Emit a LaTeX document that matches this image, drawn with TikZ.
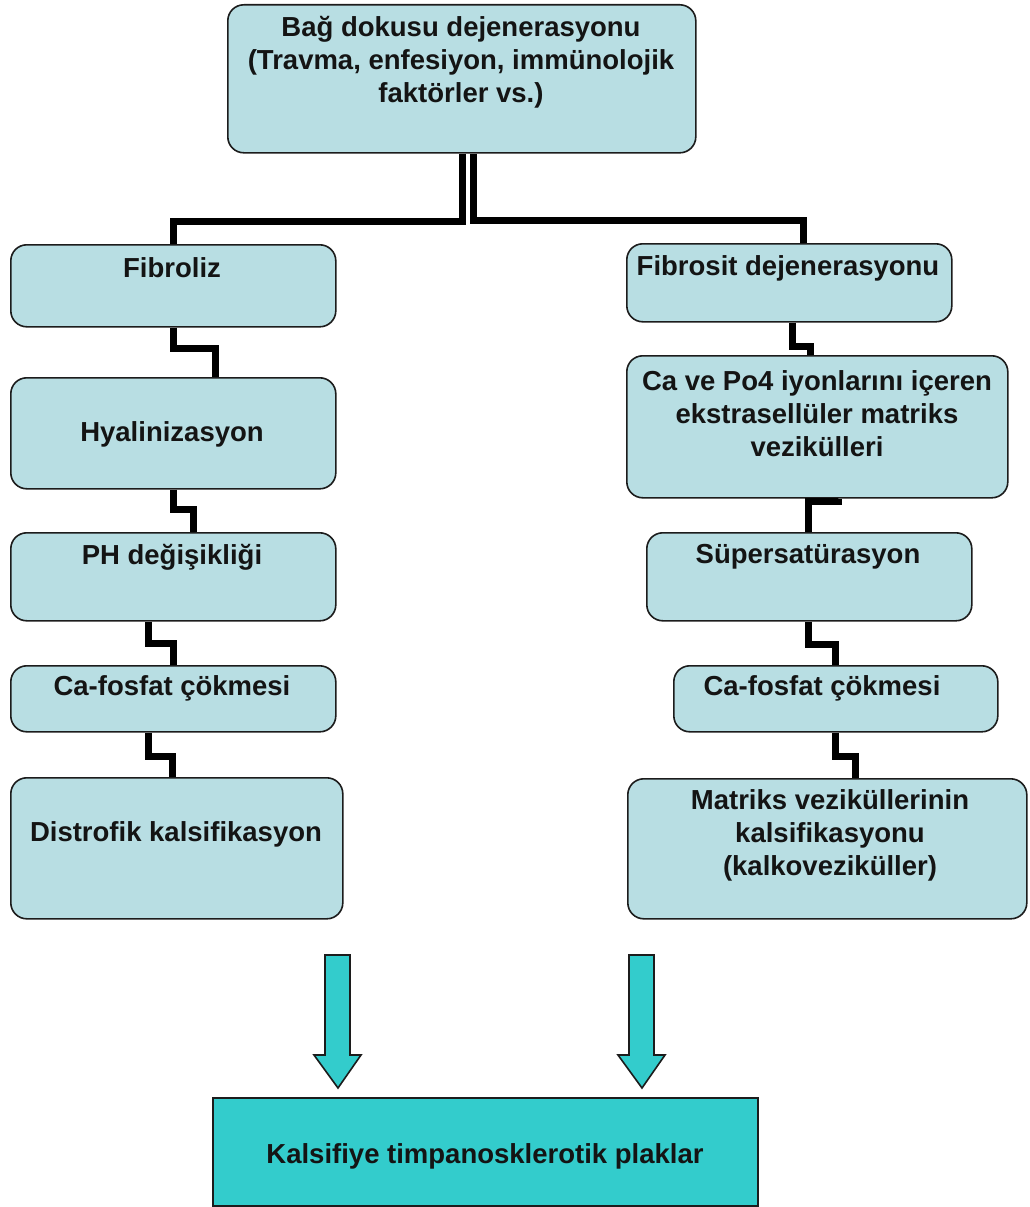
\documentclass[tikz,border=0pt]{standalone}
\usepackage{fontspec}
\setmainfont{Liberation Sans}
\definecolor{boxfill}{HTML}{B8DEE3}
\definecolor{tealfill}{HTML}{33CCCC}
\definecolor{edge}{HTML}{1C1C1C}
\definecolor{txt}{HTML}{141414}
\begin{document}
\begin{tikzpicture}[x=1pt,y=-1pt,
  rbox/.style={draw=edge,line width=1.6pt,fill=boxfill,rounded corners=16pt,inner sep=0pt,anchor=north west},
  lbl/.style={font=\fontsize{27.5}{33}\selectfont\bfseries,text=txt,align=center,inner sep=0pt},
  conn/.style={line width=7pt,draw=black},
  blockarrow/.style={draw=edge,line width=1.6pt,fill=tealfill,line join=miter}]
\useasboundingbox (0,0) rectangle (1029,1207);
% boxes
\node[rbox,minimum width=468pt,minimum height=148pt] (top) at (227,4) {};
\node[rbox,minimum width=325pt,minimum height=82pt] (fib) at (10,244) {};
\node[rbox,minimum width=325pt,minimum height=111pt] (hya) at (10,377) {};
\node[rbox,minimum width=325pt,minimum height=88pt] (ph) at (10,532) {};
\node[rbox,minimum width=325pt,minimum height=66pt] (caL) at (10,665) {};
\node[rbox,minimum width=332pt,minimum height=141pt] (dis) at (10,777) {};
\node[rbox,minimum width=325pt,minimum height=78pt] (fsit) at (626,243) {};
\node[rbox,minimum width=381pt,minimum height=142pt] (cave) at (626,355) {};
\node[rbox,minimum width=325pt,minimum height=88pt] (sup) at (646,532) {};
\node[rbox,minimum width=324pt,minimum height=66pt] (caR) at (673,665) {};
\node[rbox,minimum width=399pt,minimum height=140pt] (mat) at (627,778) {};
\node[draw=edge,line width=1.6pt,fill=tealfill,inner sep=0pt,anchor=north west,minimum width=545pt,minimum height=108pt] (bot) at (212,1097) {};
% labels
\node[lbl] (ttop) at (461,62) {Bağ dokusu dejenerasyonu\\(Travma, enfesiyon, immünolojik\\faktörler vs.)};
\node[lbl] (tfib) at (172,268) {Fibroliz};
\node[lbl] (thya) at (172,434) {Hyalinizasyon};
\node[lbl] (tph) at (172,557) {PH değişikliği};
\node[lbl] (tcaL) at (172,688) {Ca-fosfat çökmesi};
\node[lbl] (tdis) at (176,834) {Distrofik kalsifikasyon};
\node[lbl] (tfsit) at (788,268) {Fibrosit dejenerasyonu};
\node[lbl] (tcave) at (817,414) {Ca ve Po4 iyonlarını içeren\\ekstrasellüler matriks\\vezikülleri};
\node[lbl] (tsup) at (808,557) {Süpersatürasyon};
\node[lbl] (tcaR) at (822,688) {Ca-fosfat çökmesi};
\node[lbl] (tmat) at (830,835) {Matriks veziküllerinin\\kalsifikasyonu\\(kalkoveziküller)};
\node[lbl] (tbot) at (485,1156) {Kalsifiye timpanosklerotik plaklar};
% connectors
\draw[conn] ([xshift=1pt]top.south) -- ++(0,68) -| (fib.north);
\draw[conn] ([xshift=12pt]top.south) -- ++(0,67) -| ([xshift=14.5pt]fsit.north);
\draw[conn] (fib.south) -- ++(0,21) -| ([xshift=42.5pt]hya.north);
\draw[conn] (hya.south) -- ++(0,20) -| ([xshift=20.5pt]ph.north);
\draw[conn] ([xshift=-24.5pt]ph.south) -- ++(0,22) -| (caL.north);
\draw[conn] ([xshift=-24.5pt]caL.south) -- ++(0,24) -| ([xshift=-4pt]dis.north);
\draw[conn] ([xshift=3.5pt]fsit.south) -- ++(0,24) -| ([xshift=-6.5pt]cave.north);
\draw[conn] ([xshift=21.5pt]cave.south) -- ++(0,3) -| ([xshift=-0.5pt]sup.north);
\draw[conn] ([xshift=-0.5pt]sup.south) -- ++(0,23) -| (caR.north);
\draw[conn] (caR.south) -- ++(0,24) -| ([xshift=28pt]mat.north);
% block arrows
\draw[blockarrow] (325,955) -- (350,955) -- (350,1055) -- (361,1055) -- (338,1088) -- (314,1055) -- (325,1055) -- cycle;
\draw[blockarrow] (629,955) -- (654,955) -- (654,1055) -- (665,1055) -- (642,1088) -- (618,1055) -- (629,1055) -- cycle;
\end{tikzpicture}
\end{document}
